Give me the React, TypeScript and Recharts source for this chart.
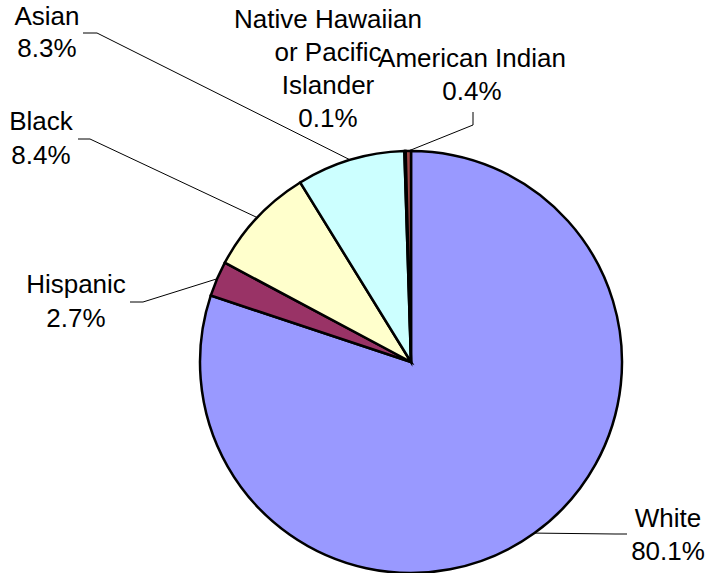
import React from "react";
import { PieChart, Pie, Cell } from "recharts";

const categories = [
  "White",
  "Hispanic",
  "Black",
  "Asian",
  "Native Hawaiian or Pacific Islander",
  "American Indian",
];
const shares = [80.1, 2.7, 8.4, 8.3, 0.1, 0.4];
const colors = ["#9999FF", "#993366", "#FFFFCC", "#CCFFFF", "#660066", "#A04848"];
const labelLines = [
  ["White"],
  ["Hispanic"],
  ["Black"],
  ["Asian"],
  ["Native Hawaiian", "or Pacific", "Islander"],
  ["American Indian"],
];

// label layout: text centre x, first baseline y, line gap, leader elbow points
const labelLayout: Record<string, { x: number; y: number; gap: number; leader: number[][] | null }> = {
  White: { x: 668, y: 527, gap: 33, leader: [[615, 534], [627, 534]] },
  Hispanic: { x: 76, y: 293, gap: 34, leader: [[143, 302], [130, 302]] },
  Black: { x: 41, y: 130, gap: 34, leader: [[90, 139], [78, 139]] },
  Asian: { x: 47, y: 25, gap: 32, leader: [[97, 33], [83, 33]] },
  "Native Hawaiian or Pacific Islander": { x: 328, y: 28, gap: 33, leader: null },
  "American Indian": { x: 472, y: 67, gap: 33, leader: [[473, 125], [473, 112]] },
};

const data = categories.map((name, i) => ({ name, value: shares[i] }));

const RAD = Math.PI / 180;

const renderLabel = (props: any) => {
  const { cx, cy, midAngle, outerRadius, index } = props;
  const name = categories[index];
  const layout = labelLayout[name];
  if (!layout) return null;
  const ex = cx + outerRadius * Math.cos(-midAngle * RAD);
  const ey = cy + outerRadius * Math.sin(-midAngle * RAD);
  const lines = [...labelLines[index], `${shares[index].toFixed(1)}%`];
  const pts = layout.leader ? [[ex, ey], ...layout.leader] : null;
  return (
    <g key={`lbl-${index}`}>
      {pts && (
        <polyline
          points={pts.map((p) => p.join(",")).join(" ")}
          fill="none"
          stroke="#000"
          strokeWidth={1}
        />
      )}
      <text
        textAnchor="middle"
        fontFamily="'Liberation Sans', Arial, sans-serif"
        fontSize={26}
        fill="#000"
      >
        {lines.map((t, k) => (
          <tspan key={k} x={layout.x} y={layout.y + k * layout.gap}>
            {t}
          </tspan>
        ))}
      </text>
    </g>
  );
};

export default function App() {
  return (
    <div style={{ position: "absolute", left: 0, top: 0, width: 707, height: 573, background: "#fff" }}>
      <PieChart width={707} height={573} margin={{ top: 0, right: 0, bottom: 0, left: 0 }}>
        <Pie
          data={data}
          dataKey="value"
          nameKey="name"
          cx={411}
          cy={362}
          outerRadius={211}
          startAngle={90}
          endAngle={-270}
          stroke="#000"
          strokeWidth={2.5}
          label={renderLabel}
          labelLine={false}
          isAnimationActive={false}
        >
          {data.map((d, i) => (
            <Cell key={d.name} fill={colors[i]} />
          ))}
        </Pie>
      </PieChart>
    </div>
  );
}
